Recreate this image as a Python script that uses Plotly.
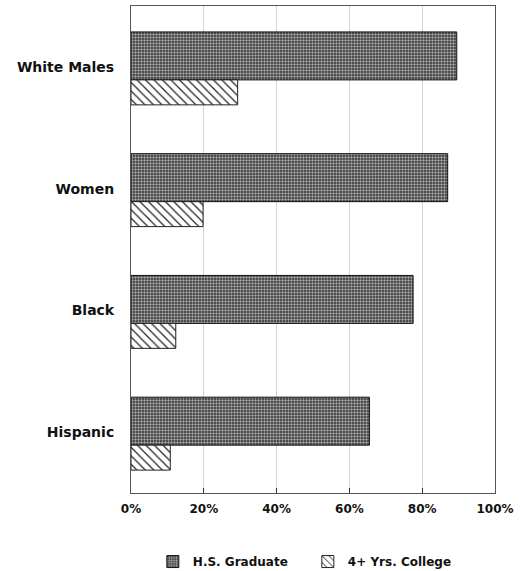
import plotly.graph_objects as go

categories = ["Hispanic", "Black", "Women", "White Males"]
hs_graduate = [65.5, 77.5, 87, 89.5]
college_4yr = [10.8, 12.3, 19.8, 29.3]
x_ticks = [0, 20, 40, 60, 80, 100]
x_tick_labels = ["0%", "20%", "40%", "60%", "80%", "100%"]

font_family = "DejaVu Sans, Liberation Sans, Arial, sans-serif"

fig = go.Figure()
fig.add_trace(go.Bar(
    y=categories, x=hs_graduate, orientation="h", name="H.S. Graduate",
    width=0.394, offset=-0.107,
    marker=dict(color="#2e2e2e",
                line=dict(color="#111111", width=1),
                pattern=dict(shape=".", fgcolor="#a8a8a8", bgcolor="#303030",
                             size=3, solidity=0.5, fillmode="replace")),
))
fig.add_trace(go.Bar(
    y=categories, x=college_4yr, orientation="h", name="4+ Yrs. College",
    width=0.205, offset=-0.312,
    marker=dict(color="white",
                line=dict(color="#222222", width=1),
                pattern=dict(shape="\\", fgcolor="#222222", bgcolor="white",
                             size=6, solidity=0.2, fillmode="replace")),
))

fig.update_layout(
    width=521, height=571,
    margin=dict(l=131, r=26, t=6, b=78, autoexpand=False),
    paper_bgcolor="white", plot_bgcolor="white",
    barmode="overlay",
    showlegend=True,
    legend=dict(orientation="h", x=0.06, xanchor="left", y=-0.111, yanchor="top",
                font=dict(family=font_family, size=12, color="#111", weight="bold"),
                traceorder="normal", itemwidth=30,
                entrywidth=110, entrywidthmode="pixels"),
    font=dict(family=font_family, color="#111"),
)
fig.update_xaxes(
    range=[0, 100], tickvals=x_ticks, ticktext=x_tick_labels,
    showgrid=True, gridcolor="#d4d4d4", gridwidth=1,
    ticks="inside", ticklen=5, tickcolor="#333",
    showline=True, linecolor="#555", linewidth=1, mirror=True,
    tickfont=dict(family=font_family, size=12, color="#111", weight="bold"),
    ticklabelstandoff=5, zeroline=False, fixedrange=True, automargin=False,
)
fig.update_yaxes(
    type="category", categoryorder="array", categoryarray=categories,
    range=[-0.5, 3.5],
    showgrid=False, ticks="", showline=True, linecolor="#555", linewidth=1, mirror=True,
    tickfont=dict(family=font_family, size=14, color="#111", weight="bold"),
    ticklabelstandoff=13, fixedrange=True, automargin=False,
)

fig.write_html("out.html", config={"displayModeBar": False},
               post_script="document.body.style.margin='0';document.body.style.padding='0';")
